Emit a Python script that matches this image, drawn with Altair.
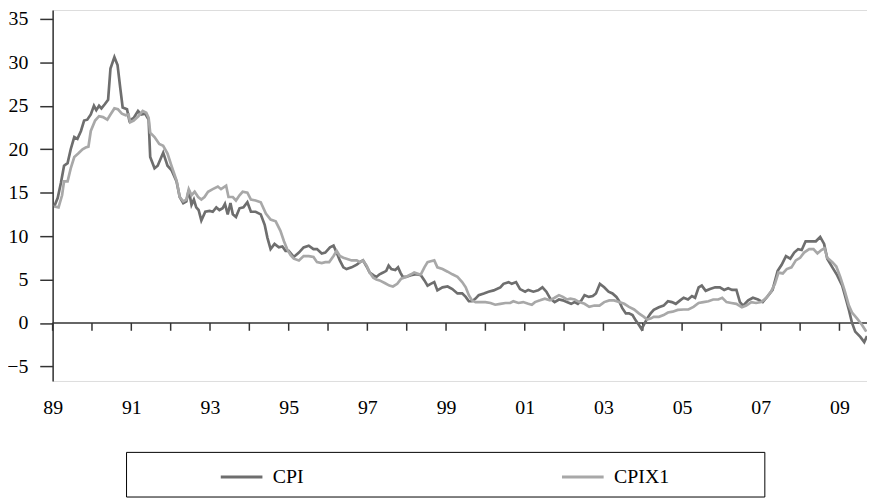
import altair as alt
import pandas as pd

# ---- data (decimal year, % y/y) ----
cpi_t = [1989.04, 1989.13, 1989.21, 1989.29, 1989.38, 1989.46, 1989.55, 1989.63, 1989.72, 1989.80,
         1989.88, 1989.97, 1990.05, 1990.11, 1990.18, 1990.24, 1990.33, 1990.41, 1990.47, 1990.57,
         1990.65, 1990.72, 1990.78, 1990.89, 1990.95, 1991.06, 1991.17, 1991.25, 1991.35, 1991.44,
         1991.48, 1991.59, 1991.67, 1991.81, 1991.92, 1992.02, 1992.15, 1992.23, 1992.32, 1992.40,
         1992.46, 1992.53, 1992.59, 1992.65, 1992.71, 1992.78, 1992.88, 1992.99, 1993.07, 1993.16,
         1993.24, 1993.32, 1993.38, 1993.45, 1993.52, 1993.58, 1993.66, 1993.75, 1993.85, 1993.95,
         1994.04, 1994.16, 1994.29, 1994.39, 1994.46, 1994.54, 1994.64, 1994.75, 1994.84, 1994.92,
         1995.00, 1995.13, 1995.26, 1995.38, 1995.51, 1995.63, 1995.72, 1995.84, 1995.93, 1996.05,
         1996.14, 1996.22, 1996.30, 1996.39, 1996.47, 1996.60, 1996.73, 1996.81, 1996.89, 1996.98,
         1997.06, 1997.15, 1997.23, 1997.31, 1997.40, 1997.48, 1997.54, 1997.61, 1997.71, 1997.78,
         1997.84, 1997.90, 1997.98, 1998.11, 1998.24, 1998.36, 1998.45, 1998.53, 1998.61, 1998.70,
         1998.78, 1998.91, 1999.04, 1999.16, 1999.29, 1999.41, 1999.50, 1999.58, 1999.66, 1999.75,
         1999.83, 1999.96, 2000.08, 2000.21, 2000.29, 2000.38, 2000.46, 2000.59, 2000.67, 2000.78,
         2000.88, 2001.01, 2001.09, 2001.22, 2001.34, 2001.45, 2001.55, 2001.65, 2001.76, 2001.87,
         2001.97, 2002.07, 2002.18, 2002.27, 2002.35, 2002.44, 2002.52, 2002.63, 2002.73, 2002.81,
         2002.91, 2003.02, 2003.13, 2003.23, 2003.33, 2003.40, 2003.48, 2003.57, 2003.65, 2003.74,
         2003.82, 2003.90, 2003.97, 2004.03, 2004.11, 2004.20, 2004.28, 2004.41, 2004.53, 2004.64,
         2004.74, 2004.84, 2004.95, 2005.04, 2005.15, 2005.25, 2005.33, 2005.42, 2005.50, 2005.60,
         2005.71, 2005.84, 2005.96, 2006.07, 2006.17, 2006.27, 2006.38, 2006.47, 2006.55, 2006.68,
         2006.80, 2006.93, 2007.05, 2007.18, 2007.30, 2007.43, 2007.53, 2007.64, 2007.75, 2007.85,
         2007.95, 2008.04, 2008.14, 2008.27, 2008.40, 2008.51, 2008.61, 2008.69, 2008.82, 2008.94,
         2009.07, 2009.15, 2009.24, 2009.32, 2009.40, 2009.53, 2009.63, 2009.70]
cpi_v = [13.4, 14.4, 16.1, 18.1, 18.4, 20.0, 21.4, 21.2, 22.1, 23.3,
         23.4, 24.0, 25.0, 24.5, 25.0, 24.7, 25.2, 25.7, 29.3, 30.6,
         29.7, 27.0, 24.8, 24.6, 23.3, 23.6, 24.4, 24.0, 24.1, 23.4,
         19.1, 17.8, 18.1, 19.6, 18.1, 17.6, 16.3, 14.5, 13.8, 14.0,
         15.3, 13.6, 14.2, 13.3, 13.0, 11.8, 12.8, 12.9, 12.8, 13.3,
         13.0, 13.2, 13.7, 12.5, 13.8, 12.5, 12.2, 13.2, 13.3, 13.9,
         12.8, 12.8, 12.5, 11.3, 9.8, 8.5, 9.1, 8.7, 8.8, 8.3,
         8.3, 7.6, 8.1, 8.7, 8.9, 8.5, 8.5, 8.0, 8.1, 8.7,
         8.9, 8.1, 7.2, 6.4, 6.2, 6.4, 6.7, 7.0, 7.2, 6.5,
         5.8, 5.5, 5.3, 5.6, 5.8, 6.0, 6.6, 6.2, 6.1, 6.4,
         5.8, 5.3, 5.3, 5.5, 5.6, 5.5, 4.9, 4.3, 4.5, 4.7,
         3.75, 4.1, 4.2, 3.9, 3.4, 3.4, 3.0, 2.5, 2.5, 2.8,
         3.2, 3.4, 3.6, 3.75, 3.9, 4.1, 4.5, 4.7, 4.5, 4.7,
         3.9, 3.6, 3.8, 3.6, 3.75, 4.1, 3.6, 2.8, 2.4, 2.7,
         2.6, 2.4, 2.2, 2.4, 2.2, 2.6, 3.2, 3.0, 3.1, 3.4,
         4.5, 4.1, 3.6, 3.4, 3.0, 2.5, 1.7, 1.1, 1.1, 0.9,
         0.3, -0.2, -0.7, -0.2, 0.5, 1.1, 1.5, 1.8, 2.0, 2.5,
         2.4, 2.2, 2.6, 2.9, 2.7, 3.1, 2.9, 4.1, 4.3, 3.7,
         3.9, 4.1, 4.1, 3.8, 4.0, 3.8, 3.8, 2.4, 2.0, 2.6,
         2.9, 2.7, 2.4, 3.1, 3.8, 6.0, 6.7, 7.7, 7.4, 8.1,
         8.5, 8.4, 9.4, 9.4, 9.4, 9.9, 9.1, 7.4, 6.4, 5.5,
         4.3, 3.0, 1.5, 0.0, -1.0, -1.6, -2.2, -1.5]

cpix_t = [1989.04, 1989.15, 1989.24, 1989.29, 1989.38, 1989.46, 1989.55, 1989.65, 1989.76, 1989.84,
          1989.91, 1989.97, 1990.08, 1990.18, 1990.28, 1990.39, 1990.47, 1990.57, 1990.66, 1990.76,
          1990.86, 1990.93, 1990.97, 1991.06, 1991.18, 1991.29, 1991.38, 1991.44, 1991.48, 1991.59,
          1991.71, 1991.81, 1991.92, 1992.02, 1992.15, 1992.23, 1992.32, 1992.40, 1992.46, 1992.53,
          1992.61, 1992.70, 1992.78, 1992.86, 1992.95, 1993.07, 1993.20, 1993.28, 1993.41, 1993.47,
          1993.58, 1993.66, 1993.75, 1993.83, 1993.95, 1994.04, 1994.16, 1994.29, 1994.42, 1994.54,
          1994.67, 1994.79, 1994.88, 1994.96, 1995.05, 1995.13, 1995.26, 1995.38, 1995.51, 1995.63,
          1995.72, 1995.84, 1995.93, 1996.03, 1996.14, 1996.22, 1996.30, 1996.39, 1996.47, 1996.60,
          1996.73, 1996.81, 1996.89, 1996.98, 1997.06, 1997.15, 1997.23, 1997.31, 1997.44, 1997.56,
          1997.65, 1997.76, 1997.86, 1997.98, 1998.11, 1998.19, 1998.32, 1998.36, 1998.45, 1998.53,
          1998.61, 1998.70, 1998.78, 1998.91, 1999.04, 1999.16, 1999.29, 1999.41, 1999.50, 1999.58,
          1999.66, 1999.75, 1999.87, 2000.00, 2000.13, 2000.25, 2000.38, 2000.51, 2000.63, 2000.71,
          2000.84, 2000.96, 2001.09, 2001.18, 2001.26, 2001.39, 2001.51, 2001.64, 2001.76, 2001.87,
          2001.97, 2002.07, 2002.16, 2002.27, 2002.39, 2002.52, 2002.64, 2002.77, 2002.90, 2003.02,
          2003.15, 2003.27, 2003.40, 2003.53, 2003.65, 2003.78, 2003.90, 2004.03, 2004.11, 2004.20,
          2004.28, 2004.41, 2004.53, 2004.64, 2004.76, 2004.89, 2005.04, 2005.16, 2005.29, 2005.42,
          2005.54, 2005.67, 2005.79, 2005.92, 2006.02, 2006.13, 2006.25, 2006.38, 2006.52, 2006.63,
          2006.76, 2006.88, 2007.01, 2007.14, 2007.26, 2007.36, 2007.45, 2007.56, 2007.66, 2007.78,
          2007.89, 2008.00, 2008.10, 2008.23, 2008.34, 2008.44, 2008.54, 2008.62, 2008.69, 2008.82,
          2008.92, 2009.02, 2009.13, 2009.24, 2009.32, 2009.45, 2009.57, 2009.68]
cpix_v = [13.4, 13.3, 14.7, 16.3, 16.3, 17.8, 19.1, 19.5, 20.0, 20.2,
          20.3, 22.1, 23.3, 23.8, 23.7, 23.4, 24.0, 24.7, 24.6, 24.1,
          23.9, 24.0, 23.1, 23.3, 23.8, 24.4, 24.2, 23.6, 21.9, 21.4,
          20.6, 20.4, 19.5, 18.1, 16.4, 14.5, 14.0, 14.2, 15.4, 14.7,
          15.1, 14.5, 14.2, 14.5, 15.1, 15.4, 15.7, 15.4, 15.8, 14.5,
          14.5, 14.1, 14.7, 15.1, 15.0, 14.2, 14.1, 13.9, 12.6, 11.9,
          11.7, 10.6, 9.4, 8.5, 7.8, 7.4, 7.2, 7.7, 7.7, 7.6,
          7.0, 6.9, 7.0, 7.0, 7.7, 8.3, 7.7, 7.5, 7.4, 7.2,
          7.2, 7.0, 7.2, 6.6, 5.8, 5.2, 5.0, 4.9, 4.6, 4.3,
          4.2, 4.5, 5.1, 5.3, 5.6, 5.8, 5.6, 5.6, 6.4, 7.0,
          7.1, 7.2, 6.4, 6.2, 5.9, 5.6, 5.3, 4.7, 4.1, 3.2,
          2.6, 2.4, 2.4, 2.4, 2.3, 2.1, 2.2, 2.3, 2.3, 2.5,
          2.3, 2.4, 2.2, 2.1, 2.4, 2.6, 2.8, 2.6, 2.9, 3.2,
          3.0, 2.7, 2.8, 2.7, 2.4, 2.2, 1.85, 2.0, 2.0, 2.4,
          2.6, 2.6, 2.4, 2.2, 1.85, 1.55, 1.1, 0.7, 0.4, 0.5,
          0.7, 0.7, 0.9, 1.2, 1.3, 1.5, 1.55, 1.55, 1.85, 2.3,
          2.4, 2.5, 2.7, 2.7, 2.9, 2.4, 2.3, 2.2, 1.8, 2.0,
          2.4, 2.3, 2.4, 2.9, 3.6, 4.5, 5.8, 5.7, 6.2, 6.4,
          7.2, 7.5, 8.1, 8.5, 8.5, 8.0, 8.4, 8.6, 7.5, 7.0,
          6.5, 5.3, 3.75, 2.0, 1.2, 0.5, -0.2, -1.0]

series_names = ["CPI", "CPIX1"]
series_colors = ["#6e6e6e", "#a8a8a8"]
year_ticks = list(range(1989, 2010))
label_years = list(range(1989, 2010, 2))
y_ticks = list(range(-5, 40, 5))

df = pd.concat([
    pd.DataFrame({"t": cpi_t, "v": cpi_v, "series": "CPI"}),
    pd.DataFrame({"t": cpix_t, "v": cpix_v, "series": "CPIX1"}),
], ignore_index=True)
df["order"] = range(len(df))

FONT = "Liberation Serif"
FS = 20
x_scale = alt.Scale(domain=[1989, 2009.7], nice=False, zero=False)
y_scale = alt.Scale(domain=[-6.68, 36.03], nice=False, zero=False)

zero_line = alt.Chart(pd.DataFrame({"z": [0]})).mark_rule(
    color="#333333", strokeWidth=1.5
).encode(y=alt.Y("z:Q", scale=y_scale))

tick_marks = alt.Chart(pd.DataFrame({"t": year_ticks})).mark_rule(
    color="#333333", strokeWidth=1.5
).encode(
    x=alt.X("t:Q", scale=x_scale),
    y=alt.datum(0),
    y2=alt.datum(-0.9),
)

lines = alt.Chart(df).mark_line(strokeWidth=2.7).encode(
    x=alt.X("t:Q", scale=x_scale, title=None,
            axis=alt.Axis(values=label_years, domain=False, ticks=False, grid=False,
                          labelExpr="substring(toString(datum.value), 2, 4)",
                          labelFlush=False,
                          labelPadding=17, labelFont=FONT, labelFontSize=FS,
                          labelColor="#000000")),
    y=alt.Y("v:Q", scale=y_scale, title=None,
            axis=alt.Axis(values=y_ticks, format="d", grid=False,
                          domainColor="#333333", domainWidth=1.5,
                          tickColor="#333333", tickWidth=1.5, tickSize=13,
                          labelPadding=12, labelFont=FONT, labelFontSize=FS,
                          labelColor="#000000")),
    color=alt.Color("series:N", scale=alt.Scale(domain=series_names, range=series_colors),
                    legend=alt.Legend(title=None, orient="none", legendX=168, legendY=448,
                                      direction="horizontal", symbolType="stroke",
                                      symbolSize=1764, symbolStrokeWidth=3,
                                      labelFont=FONT, labelFontSize=FS, labelColor="#000000",
                                      labelOffset=9, columnPadding=253, padding=0)),
    order="order:Q",
)

legend_box = alt.Chart(pd.DataFrame({"a": [0]})).mark_rect(
    fill="none", stroke="#000000", strokeWidth=1
).encode(
    x=alt.value(74.5), x2=alt.value(718), y=alt.value(446), y2=alt.value(491)
)

chart = alt.layer(zero_line, tick_marks, lines, legend_box).properties(
    width=821, height=374,
    padding={"left": 45, "top": 0, "right": 0, "bottom": 118},
    autosize=alt.AutoSizeParams(type="none"),
).configure_view(stroke=None).configure(background="#ffffff")

chart.save("out.html", embed_options={"renderer": "svg", "actions": False})
